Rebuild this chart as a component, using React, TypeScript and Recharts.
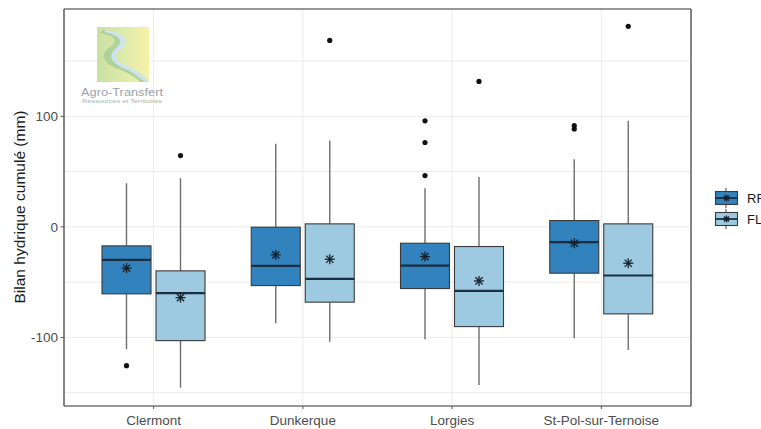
import React from 'react';
import {
  ComposedChart,
  Bar,
  XAxis,
  YAxis,
  CartesianGrid,
  Legend,
  Customized,
} from 'recharts';

// ---- data ----
const categories = ['Clermont', 'Dunkerque', 'Lorgies', 'St-Pol-sur-Ternoise'];

const rfLow = [-110.7, -87.2, -101.7, -100.8];
const rfQ1 = [-60.6, -53.1, -55.8, -41.9];
const rfMedian = [-29.9, -35.3, -35.0, -13.9];
const rfQ3 = [-17.2, -0.3, -14.8, 5.7];
const rfHigh = [39.5, 75.1, 35.0, 61.2];
const rfMean = [-37.4, -25.3, -26.9, -14.8];
const rfOutliers = [[-125.5], [], [46.4, 76.3, 95.9], [88.5, 91.5]];

const flLow = [-145.4, -103.8, -143.0, -111.3];
const flQ1 = [-102.9, -68.1, -90.2, -78.7];
const flMedian = [-60.0, -47.1, -57.9, -44.0];
const flQ3 = [-39.8, 2.7, -17.8, 2.7];
const flHigh = [44.0, 78.1, 45.0, 95.9];
const flMean = [-64.0, -29.3, -48.9, -32.9];
const flOutliers = [[64.5], [168.6], [131.5], [181.3]];

const yGridTicks = [-150, -100, -50, 0, 50, 100, 150];
const yLabelTicks = [-100, 0, 100];
const yDomain = [-162, 197];

const seriesNames = ['RF', 'FL'];
const seriesColors = ['#3182bd', '#9ecae1'];

const data = categories.map((name, i) => ({
  name,
  rfBox: [rfQ1[i], rfQ3[i]],
  flBox: [flQ1[i], flQ3[i]],
  rf: { low: rfLow[i], q1: rfQ1[i], med: rfMedian[i], q3: rfQ3[i], high: rfHigh[i], mean: rfMean[i], out: rfOutliers[i] },
  fl: { low: flLow[i], q1: flQ1[i], med: flMedian[i], q3: flQ3[i], high: flHigh[i], mean: flMean[i], out: flOutliers[i] },
}));

const FONT = '"Liberation Sans", Arial, Helvetica, sans-serif';
const BORDER = '#3a3a3a';
const MEDIAN = '#1c2e40';
const WHISKER = '#6e6e6e';
const frameLine = { stroke: BORDER, strokeWidth: 1.2 };

function Star({ cx, cy, s, color }: { cx: number; cy: number; s: number; color: string }) {
  const d = s * 0.72;
  return (
    <g stroke={color} strokeWidth={1.3}>
      <line x1={cx} y1={cy - s} x2={cx} y2={cy + s} />
      <line x1={cx - s} y1={cy} x2={cx + s} y2={cy} />
      <line x1={cx - d} y1={cy - d} x2={cx + d} y2={cy + d} />
      <line x1={cx - d} y1={cy + d} x2={cx + d} y2={cy - d} />
    </g>
  );
}

function makeBoxShape(key: 'rf' | 'fl', fill: string) {
  return (props: any) => {
    const { x, y, width, height, payload } = props;
    const st = payload[key];
    const ppu = height / (st.q3 - st.q1);
    const toPx = (v: number) => y + (st.q3 - v) * ppu;
    const cx = x + width / 2;
    return (
      <g>
        <line x1={cx} y1={toPx(st.high)} x2={cx} y2={toPx(st.q3)} stroke={WHISKER} strokeWidth={1.4} />
        <line x1={cx} y1={toPx(st.q1)} x2={cx} y2={toPx(st.low)} stroke={WHISKER} strokeWidth={1.4} />
        <rect x={x} y={y} width={width} height={height} fill={fill} stroke={BORDER} strokeWidth={1.1} />
        <line x1={x} y1={toPx(st.med)} x2={x + width} y2={toPx(st.med)} stroke={MEDIAN} strokeWidth={2.2} />
        <Star cx={cx} cy={toPx(st.mean)} s={5} color="#15202b" />
        {st.out.map((o: number, j: number) => (
          <circle key={j} cx={cx} cy={toPx(o)} r={2.6} fill="#111" />
        ))}
      </g>
    );
  };
}

const YTick = (props: any) => {
  const { x, y, payload } = props;
  if (!yLabelTicks.includes(payload.value)) return null;
  return (
    <g>
      <line x1={x - 3.5} y1={y} x2={x} y2={y} stroke="#555" strokeWidth={1} />
      <text x={x - 6} y={y} dy="0.35em" textAnchor="end" fill="#4d4d4d" fontSize={13.5} fontFamily={FONT}>
        {payload.value}
      </text>
    </g>
  );
};

const LegendContent = () => (
  <svg width={60} height={50} style={{ overflow: 'visible', display: 'block' }}>
    {seriesNames.map((n, i) => {
      const cy = 10 + i * 21;
      return (
        <g key={n}>
          <line x1={12} y1={cy - 10} x2={12} y2={cy + 10} stroke={WHISKER} strokeWidth={1.3} />
          <rect x={1.5} y={cy - 6.5} width={22} height={13} fill={seriesColors[i]} stroke={BORDER} strokeWidth={1.1} />
          <line x1={1.5} y1={cy} x2={23.5} y2={cy} stroke={MEDIAN} strokeWidth={1.8} />
          <Star cx={12.5} cy={cy} s={3.5} color="#15202b" />
          <text x={33} y={cy} dy="0.35em" fontSize={13} fill="#1a1a1a" fontFamily={FONT}>
            {n}
          </text>
        </g>
      );
    })}
  </svg>
);

const Decor = () => (
  <g>
    <defs>
      <linearGradient id="logoGrad" x1="0" y1="0" x2="1" y2="0">
        <stop offset="0%" stopColor="#c9e0a2" />
        <stop offset="60%" stopColor="#e2ecaa" />
        <stop offset="100%" stopColor="#f7f1a6" />
      </linearGradient>
    </defs>
    <rect x={97} y={27} width={52} height={55} fill="url(#logoGrad)" />
    <path
      d="M103,30 C122,34 128,40 118,48 C108,56 110,62 126,68 C136,72 142,76 148,82 L140,82 C134,76 126,72 116,68 C102,62 100,54 110,47 C118,41 116,36 100,33 Z"
      fill="#a9cf9a"
      opacity={0.9}
    />
    <path
      d="M106,30 C126,34 131,41 121,49 C113,56 115,61 129,67 C139,71 144,76 149,81 L145,82 C139,77 133,72 123,68 C110,62 108,55 116,48 C124,41 121,36 104,32 Z"
      fill="#cfe3ee"
    />
    <text x={81} y={96} fontSize={11.5} fill="#9aa3a8" fontFamily={FONT} textLength={82} lengthAdjust="spacingAndGlyphs">
      Agro-Transfert
    </text>
    <text x={82} y={102.5} fontSize={4.5} fill="#a9b0b4" fontFamily={FONT} textLength={80} lengthAdjust="spacingAndGlyphs">
      Ressources et Territoires
    </text>
    <text
      x={20}
      y={207}
      transform="rotate(-90 20 207)"
      textAnchor="middle"
      dy="0.35em"
      fontSize={15.5}
      fill="#1a1a1a"
      fontFamily={FONT}
    >
      Bilan hydrique cumulé (mm)
    </text>
  </g>
);

export default function App() {
  return (
    <div style={{ position: 'absolute', left: 0, top: 0, width: 761, height: 429, background: '#fff' }}>
      <ComposedChart
        width={761}
        height={429}
        data={data}
        margin={{ top: 8, right: 69, bottom: 0, left: 0 }}
        barGap={5}
        barCategoryGap={0}
      >
        <CartesianGrid stroke="#ebebeb" strokeWidth={1} />
        <XAxis
          dataKey="name"
          height={23}
          padding={{ left: 15, right: 15 }}
          axisLine={frameLine}
          tickSize={3}
          tickMargin={6}
          tickLine={{ stroke: '#555' }}
          tick={{ fill: '#4d4d4d', fontSize: 13.5, fontFamily: FONT }}
          interval={0}
        />
        <XAxis
          xAxisId="top"
          orientation="top"
          dataKey="name"
          height={1}
          padding={{ left: 15, right: 15 }}
          axisLine={frameLine}
          tick={false}
          tickLine={false}
        />
        <YAxis
          type="number"
          domain={yDomain}
          ticks={yGridTicks}
          width={64}
          axisLine={frameLine}
          tickLine={false}
          tickSize={0}
          tickMargin={0}
          tick={<YTick />}
          allowDataOverflow
        />
        <YAxis
          yAxisId="right"
          orientation="right"
          type="number"
          domain={yDomain}
          width={1}
          axisLine={frameLine}
          tick={false}
          tickLine={false}
        />
        <Bar dataKey="rfBox" barSize={49} isAnimationActive={false} shape={makeBoxShape('rf', seriesColors[0])} />
        <Bar dataKey="flBox" barSize={49} isAnimationActive={false} shape={makeBoxShape('fl', seriesColors[1])} />
        <Customized component={<Decor />} />
        <Legend
          content={<LegendContent />}
          layout="horizontal"
          verticalAlign="middle"
          align="center"
          wrapperStyle={{ position: 'absolute', left: 714, top: 188, width: 60, height: 50 }}
        />
      </ComposedChart>
    </div>
  );
}
